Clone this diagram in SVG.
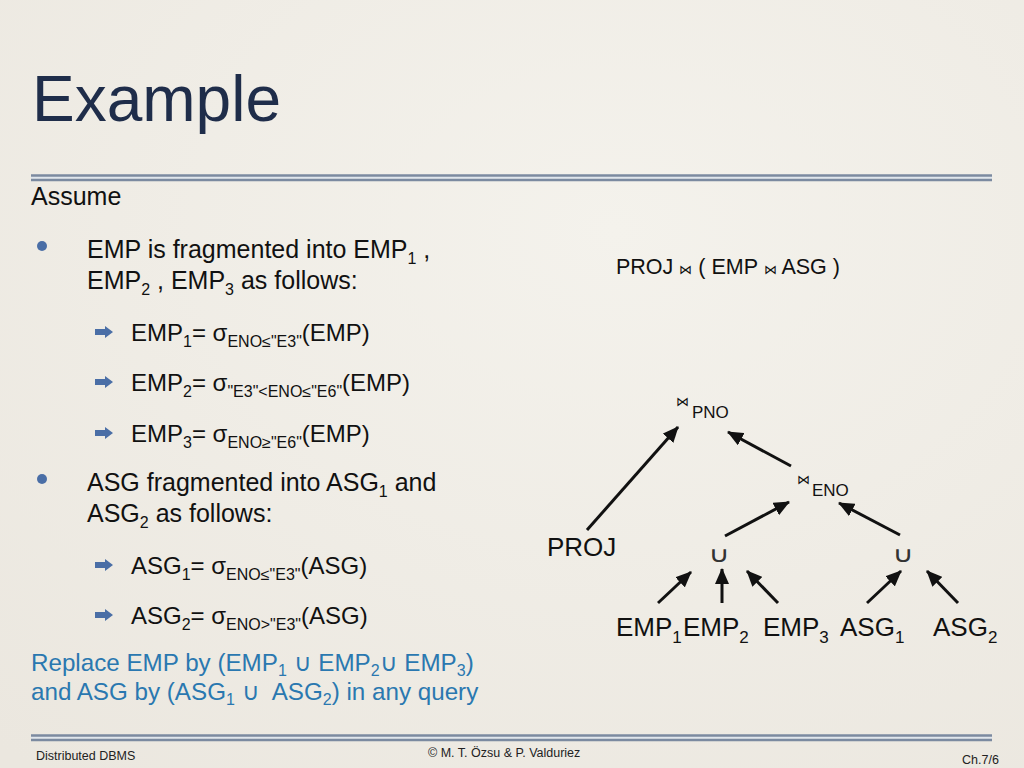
<svg xmlns="http://www.w3.org/2000/svg" width="1024" height="768" viewBox="0 0 1024 768">
<defs>
<style>
text{font-family:"Liberation Sans",Arial,sans-serif;fill:#111}
.title{font-size:64px;fill:#1f2d4a}
.body{font-size:25px}
.sub{font-size:24px}
.blue{font-size:24.2px;fill:#2a78b0}
.foot{font-size:12.5px;fill:#222}
.tree{font-size:26px}
.jn{font-size:17px}
.bt{font-family:"DejaVu Sans",sans-serif;font-size:13px;font-weight:200}
.cup{font-family:"DejaVu Sans",sans-serif;font-size:22px;fill:#333;text-anchor:middle}
.ucup{font-family:"DejaVu Sans",sans-serif;font-weight:200}
.rule{stroke:#7b8aa0;stroke-width:2.4}
.band{stroke:#dfe6ee;stroke-width:2}
.edge{stroke:#111;stroke-width:3;fill:none;marker-end:url(#ah)}
.bul{fill:#4a6ea6}
</style>
<marker id="ah" markerUnits="userSpaceOnUse" markerWidth="16" markerHeight="14" refX="15" refY="7" orient="auto">
<path d="M0,0 L16,7 L0,14 Z" fill="#111"/>
</marker>
<radialGradient id="bg" cx="60%" cy="30%" r="90%">
<stop offset="0" stop-color="#f4f2ec"/>
<stop offset="1" stop-color="#ebe7df"/>
</radialGradient>
<path id="arr" d="M0,-3 L10,-3 L10,-6 L18,0 L10,6 L10,3 L0,3 Z"/>
</defs>
<rect width="1024" height="768" fill="url(#bg)"/>

<g id="header">
<text class="title" x="32" y="121">Example</text>
<line class="band" x1="31" y1="177.8" x2="992" y2="177.8"/>
<line class="rule" x1="31" y1="175.5" x2="992" y2="175.5"/>
<line class="rule" x1="31" y1="180" x2="992" y2="180"/>
</g>

<g id="left-text">
<text class="body" x="31" y="205">Assume</text>
<circle class="bul" cx="42" cy="246" r="5"/>
<text class="body" x="87" y="258">EMP is fragmented into EMP<tspan font-size="16" dy="6">1</tspan><tspan dy="-6"> ,</tspan></text>
<text class="body" x="87" y="289">EMP<tspan font-size="16" dy="6">2</tspan><tspan dy="-6"> , EMP</tspan><tspan font-size="16" dy="6">3</tspan><tspan dy="-6"> as follows:</tspan></text>

<use href="#arr" class="bul" x="95" y="332"/>
<text class="sub" x="131" y="341">EMP<tspan font-size="16" dy="6">1</tspan><tspan dy="-6">= σ</tspan><tspan font-size="16" dy="6">ENO≤"E3"</tspan><tspan dy="-6">(EMP)</tspan></text>
<use href="#arr" class="bul" x="95" y="382"/>
<text class="sub" x="131" y="391">EMP<tspan font-size="16" dy="6">2</tspan><tspan dy="-6">= σ</tspan><tspan font-size="16" dy="6">"E3"&lt;ENO≤"E6"</tspan><tspan dy="-6">(EMP)</tspan></text>
<use href="#arr" class="bul" x="95" y="433"/>
<text class="sub" x="131" y="442">EMP<tspan font-size="16" dy="6">3</tspan><tspan dy="-6">= σ</tspan><tspan font-size="16" dy="6">ENO≥"E6"</tspan><tspan dy="-6">(EMP)</tspan></text>

<circle class="bul" cx="42" cy="479" r="5"/>
<text class="body" x="87" y="491">ASG fragmented into ASG<tspan font-size="16" dy="6">1</tspan><tspan dy="-6"> and</tspan></text>
<text class="body" x="87" y="522">ASG<tspan font-size="16" dy="6">2</tspan><tspan dy="-6"> as follows:</tspan></text>

<use href="#arr" class="bul" x="95" y="565"/>
<text class="sub" x="131" y="574">ASG<tspan font-size="16" dy="6">1</tspan><tspan dy="-6">= σ</tspan><tspan font-size="16" dy="6">ENO≤"E3"</tspan><tspan dy="-6">(ASG)</tspan></text>
<use href="#arr" class="bul" x="95" y="615"/>
<text class="sub" x="131" y="624">ASG<tspan font-size="16" dy="6">2</tspan><tspan dy="-6">= σ</tspan><tspan font-size="16" dy="6">ENO&gt;"E3"</tspan><tspan dy="-6">(ASG)</tspan></text>

<text class="blue" x="31" y="671">Replace EMP by (EMP<tspan font-size="16" dy="5">1</tspan><tspan dy="-5"> <tspan class="ucup">∪</tspan> EMP</tspan><tspan font-size="16" dy="5">2</tspan><tspan dy="-5"><tspan class="ucup">∪</tspan> EMP</tspan><tspan font-size="16" dy="5">3</tspan><tspan dy="-5">)</tspan></text>
<text class="blue" x="31" y="700">and ASG by (ASG<tspan font-size="16" dy="5">1</tspan><tspan dy="-5"> <tspan class="ucup">∪</tspan>&#160; ASG</tspan><tspan font-size="16" dy="5">2</tspan><tspan dy="-5">) in any query</tspan></text>
</g>

<g id="query">
<text x="616" y="274" font-size="21.5">PROJ <tspan class="bt">⋈</tspan> ( EMP <tspan class="bt">⋈</tspan> ASG )</text>
</g>

<g id="node-pno">
<text class="bt" x="676" y="406">⋈</text>
<text class="jn" x="692" y="418">PNO</text>
</g>
<g id="node-eno">
<text class="bt" x="797" y="484">⋈</text>
<text class="jn" x="812" y="496">ENO</text>
</g>
<g id="node-proj">
<text class="tree" x="547" y="556">PROJ</text>
</g>
<g id="node-union1">
<text class="cup" transform="translate(719,562) scale(1.35,1)">∪</text>
</g>
<g id="node-union2">
<text class="cup" transform="translate(903,562) scale(1.35,1)">∪</text>
</g>
<g id="node-emp1"><text class="tree" x="616" y="636">EMP<tspan font-size="17" dy="7">1</tspan></text></g>
<g id="node-emp2"><text class="tree" x="683" y="636">EMP<tspan font-size="17" dy="7">2</tspan></text></g>
<g id="node-emp3"><text class="tree" x="763" y="636">EMP<tspan font-size="17" dy="7">3</tspan></text></g>
<g id="node-asg1"><text class="tree" x="840" y="636">ASG<tspan font-size="17" dy="7">1</tspan></text></g>
<g id="node-asg2"><text class="tree" x="933" y="636">ASG<tspan font-size="17" dy="7">2</tspan></text></g>

<g id="connectors">
<line class="edge" x1="587" y1="530" x2="678" y2="427"/>
<line class="edge" x1="791" y1="466" x2="728" y2="432"/>
<line class="edge" x1="725" y1="536" x2="789" y2="502"/>
<line class="edge" x1="900" y1="535" x2="839" y2="503"/>
<line class="edge" x1="658" y1="603" x2="691" y2="572"/>
<line class="edge" x1="722" y1="603" x2="722" y2="569"/>
<line class="edge" x1="778" y1="603" x2="747" y2="571"/>
<line class="edge" x1="867" y1="603" x2="901" y2="571"/>
<line class="edge" x1="958" y1="603" x2="927" y2="571"/>
</g>

<g id="footer">
<line class="band" x1="31" y1="737.8" x2="992" y2="737.8"/>
<line class="rule" x1="31" y1="735.5" x2="992" y2="735.5"/>
<line class="rule" x1="31" y1="740" x2="992" y2="740"/>
<text class="foot" x="36" y="760">Distributed DBMS</text>
<text class="foot" x="428" y="757">© M. T. Özsu &amp; P. Valduriez</text>
<text class="foot" x="962" y="764">Ch.7/6</text>
</g>
</svg>
